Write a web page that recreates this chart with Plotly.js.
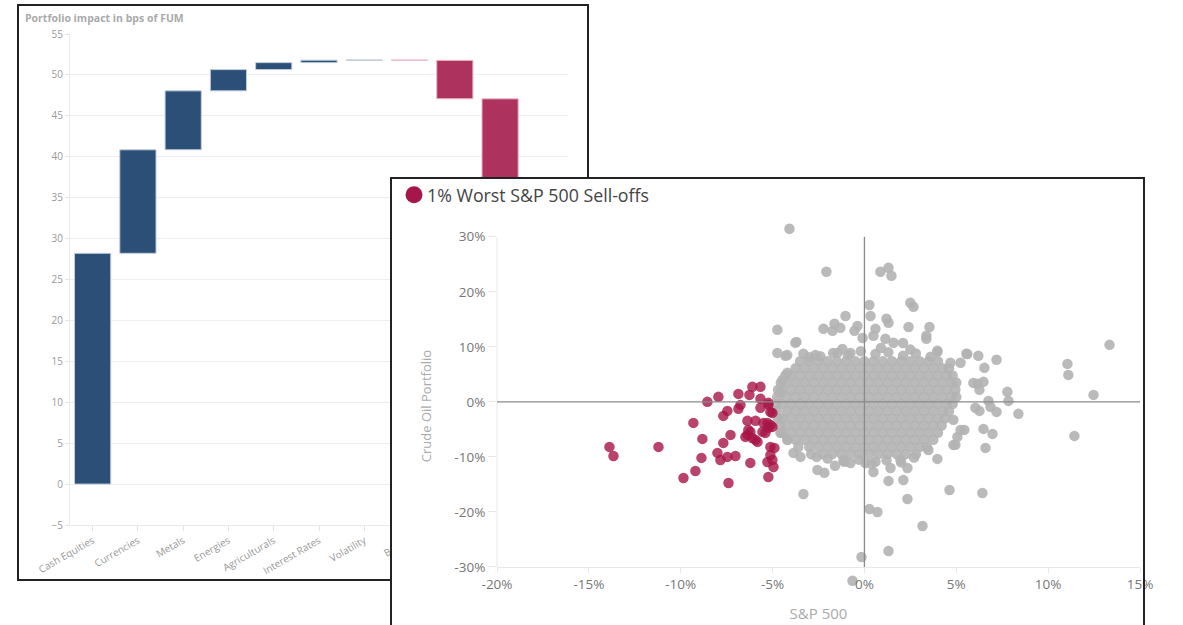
<!DOCTYPE html>
<html><head><meta charset="utf-8">
<script src="https://cdn.plot.ly/plotly-3.0.1.min.js"></script>
<style>
html,body{margin:0;padding:0;background:#fff;overflow:hidden;width:1183px;height:625px;}
#wfBox{position:absolute;left:17px;top:4px;width:568px;height:573px;border:2px solid #222;background:#fff;}
#wf{width:568px;height:573px;}
#sc{position:absolute;left:392px;top:179px;width:791px;height:446px;background:#fff;}
#scBorder{position:absolute;left:390px;top:177px;width:751px;height:470px;border:2px solid #222;pointer-events:none;}
</style></head><body>
<div id="wfBox"><div id="wf"></div></div>
<div id="sc"></div>
<div id="scBorder"></div>
<script>
// ---------- Waterfall data ----------
const wfCategories = ['Cash Equities','Currencies','Metals','Energies','Agriculturals','Interest Rates','Volatility','Bonds','Credit','Other','Total'];
const wfValues = [28.2, 12.65, 7.2, 2.6, 0.85, 0.3, 0.03, -0.05, -4.7, -12.0, null];
const wfMeasures = ['relative','relative','relative','relative','relative','relative','relative','relative','relative','relative','total'];
const wfTitle = 'Portfolio impact in bps of FUM';

// ---------- Scatter data (S&P 500 % vs Crude Oil Portfolio %) ----------
const redName = '1% Worst S&P 500 Sell-offs';
const redX = [-13.88,-13.66,-11.21,-9.31,-8.55,-7.95,-6.86,-6.26,-6.10,-5.66,
  -7.46,-7.68,-6.86,-6.75,-5.66,-5.23,-5.66,-6.37,-5.93,-5.50,
  -5.01,-5.12,-8.82,-7.68,-7.29,-6.37,-6.10,-5.82,-6.21,-5.55,
  -5.23,-5.12,-4.9,-8.87,-8.0,-7.84,-7.46,-7.02,-6.21,-5.12,
  -5.01,-4.95,-9.2,-9.85,-7.4,-5.23,-5.28,-5.23,-5.12,-5.28,
  -5.01,-5.39,-6.48,-5.93,-6.32];
const redY = [-8.18,-9.82,-8.18,-3.82,0,0.91,1.45,1.27,2.73,2.73,
  -1.64,-2.55,-1.27,-0.55,0.55,-0.18,-1.09,-3.45,-3.45,-3.82,
  -2.0,-4.18,-6.73,-7.45,-6.0,-6.0,-6.55,-7.27,-5.45,-5.45,
  -4.73,-8.18,-8.36,-10.18,-9.27,-10.55,-10.0,-9.82,-11.09,-9.64,
  -10.55,-11.82,-12.55,-13.82,-14.73,-13.64,-10.91,-0.55,-1.82,-3.82,
  -4.55,-5.64,-6.36,-6.91,-5.09];

const greyOutX = [-4.08,-2.07,0.87,1.31,1.47,0.27,2.5,2.67,0.33,-1.03,1.2,1.31,-4.74,-2.23,-1.74,-1.63,-1.31,-0.38,-0.54,0.6,2.4,3.54,-3.7,3.37,3.37,-0.1,1.14,1.58,2.1,0.49,-4.74,-4.2,-3.32,-2.67,-1.47,-0.76,3.97,
  13.34,11.05,11.1,12.47,11.43,5.55,6.2,7.19,6.53,6.48,6.15,6.26,7.78,7.84,6.75,6.86,8.38,7.19,6.26,6.04,6.48,6.97,6.59,5.44,5.06,4.84,3.97,4.84,5.23,4.68,3.97,
  -3.32,-2.56,-2.18,0.49,1.31,2.12,2.34,1.42,2.34,4.63,6.42,0.27,0.71,3.16,1.31,-0.16,-0.65,-1.14,-0.76,0.05,0.6,1.96,3.48,4.95,
  -4.3,-3.76,-4.46,-4.19,-4.57,5.6,5.93,5.23,-3.86,-3.48,-4.19,-4.57,
  -2.4,-1.7,-0.9,-0.2,0.6,1.3,2.1,2.8,3.6,-3.0,-1.2,0.9,2.5,
  -2.0,-1.1,-0.3,0.4,1.2,2.0,-2.6,2.7,-1.6];
const greyOutY = [31.45,23.64,23.64,24.36,22.9,17.6,18.0,17.27,15.6,15.6,15.1,14.36,13.1,13.27,12.9,14.2,13.45,13.8,12.9,13.27,13.6,13.6,10.9,12.0,11.45,11.6,11.45,10.73,10.7,12.0,8.9,8.5,8.73,8.5,8.9,8.9,9.27,
  10.36,6.9,4.9,1.27,-6.18,8.73,8.36,7.64,6.18,3.64,3.27,2.18,1.82,0.18,0.18,-0.91,-2.18,-1.82,-1.64,-1.09,-4.91,-5.82,-8.36,-5.09,-6.36,-7.82,-10.36,-3.27,7.1,7.1,9.1,
  -16.73,-12.36,-12.9,-12.73,-14.36,-14.18,-12.0,-12.0,-17.64,-16.0,-16.55,-19.45,-20.0,-22.55,-27.1,-28.18,-32.5,-10.55,-11.1,-11.1,-10.9,-10.55,-8.73,-7.8,
  8.36,10.73,4.0,5.27,1.64,8.7,3.45,-5.1,-9.27,-10.0,-6.9,-5.64,
  8.3,8.9,8.5,9.2,8.7,9.0,8.4,8.8,8.2,8.1,9.6,9.8,9.5,
  -10.3,-10.9,-10.5,-11.3,-10.6,-11.0,-10.0,-10.1,-11.6];

// dense core of the cloud, listed row by row (row y value, then the x values in that row)
const coreRowY = [7.4, 6.1, 4.8, 3.5, 2.2, 0.9, -0.4, -1.7, -3.0, -4.3, -5.6, -6.9, -8.2, -9.5];
const coreRowX = [
  [-3.5,-3.0,-2.5,-2.0,-1.5,-1.0,-0.5,0.0,0.5,1.0,1.5,2.0,2.5,3.0,3.5,4.0],
  [-3.75,-3.25,-2.75,-2.25,-1.75,-1.25,-0.75,-0.25,0.25,0.75,1.25,1.75,2.25,2.75,3.25,3.75,4.25,4.6],
  [-4.3,-4.0,-3.5,-3.0,-2.5,-2.0,-1.5,-1.0,-0.5,0.0,0.5,1.0,1.5,2.0,2.5,3.0,3.5,4.0,4.5,4.8],
  [-4.55,-4.25,-3.75,-3.25,-2.75,-2.25,-1.75,-1.25,-0.75,-0.25,0.25,0.75,1.25,1.75,2.25,2.75,3.25,3.75,4.25,4.75,5.0],
  [-4.7,-4.5,-4.0,-3.5,-3.0,-2.5,-2.0,-1.5,-1.0,-0.5,0.0,0.5,1.0,1.5,2.0,2.5,3.0,3.5,4.0,4.5,4.95],
  [-4.75,-4.25,-3.75,-3.25,-2.75,-2.25,-1.75,-1.25,-0.75,-0.25,0.25,0.75,1.25,1.75,2.25,2.75,3.25,3.75,4.25,4.75,5.0],
  [-4.8,-4.5,-4.0,-3.5,-3.0,-2.5,-2.0,-1.5,-1.0,-0.5,0.0,0.5,1.0,1.5,2.0,2.5,3.0,3.5,4.0,4.5,4.8],
  [-4.8,-4.25,-3.75,-3.25,-2.75,-2.25,-1.75,-1.25,-0.75,-0.25,0.25,0.75,1.25,1.75,2.25,2.75,3.25,3.75,4.25,4.6],
  [-4.7,-4.5,-4.0,-3.5,-3.0,-2.5,-2.0,-1.5,-1.0,-0.5,0.0,0.5,1.0,1.5,2.0,2.5,3.0,3.5,4.0,4.4],
  [-4.6,-4.25,-3.75,-3.25,-2.75,-2.25,-1.75,-1.25,-0.75,-0.25,0.25,0.75,1.25,1.75,2.25,2.75,3.25,3.75,4.2],
  [-4.5,-4.0,-3.5,-3.0,-2.5,-2.0,-1.5,-1.0,-0.5,0.0,0.5,1.0,1.5,2.0,2.5,3.0,3.5,4.0],
  [-4.2,-3.75,-3.25,-2.75,-2.25,-1.75,-1.25,-0.75,-0.25,0.25,0.75,1.25,1.75,2.25,2.75,3.25,3.75],
  [-3.6,-3.0,-2.5,-2.0,-1.5,-1.0,-0.5,0.0,0.5,1.0,1.5,2.0,2.5,3.0,3.4],
  [-2.9,-2.25,-1.75,-1.25,-0.75,-0.25,0.25,0.75,1.25,1.75,2.25,2.8]
];

const xTickVals = [-20,-15,-10,-5,0,5,10,15];
const xTickText = ['-20%','-15%','-10%','-5%','0%','5%','10%','15%'];
const yTickVals = [-30,-20,-10,0,10,20,30];
const yTickText = ['-30%','-20%','-10%','0%','10%','20%','30%'];
const yAxisMin = -30, yAxisMax = 30;   // extent of the drawn y axis

// ---------- Waterfall chart ----------
const NAVY = '#2c4f78', RED = '#ad325e';
Plotly.newPlot('wf', [{
  type: 'waterfall',
  x: wfCategories, y: wfValues, measure: wfMeasures,
  connector: {visible: false},
  increasing: {marker: {color: NAVY, line: {color: '#c3cedb', width: 1}}},
  decreasing: {marker: {color: RED, line: {color: '#ecbccb', width: 1}}},
  totals: {marker: {color: NAVY, line: {color: '#c3cedb', width: 1}}},
  textinfo: 'none', hoverinfo: 'x+y'
}], {
  width: 568, height: 573,
  margin: {l: 51, r: 19, t: 28, b: 54},
  paper_bgcolor: '#fff', plot_bgcolor: '#fff',
  showlegend: false, waterfallgap: 0.2,
  font: {family: 'Open Sans', color: '#999'},
  title: {text: wfTitle, font: {family: 'Open Sans', size: 10.5, color: '#aaa', weight: 'bold'},
          x: 6/568, xref: 'container', xanchor: 'left', y: 1 - 12/573, yref: 'container', yanchor: 'middle'},
  xaxis: {type: 'category', tickangle: -30, tickfont: {family: 'Open Sans', size: 10, color: '#999'},
          ticks: 'outside', ticklen: 5, tickcolor: '#e4e4e4', showgrid: false, showline: true, linecolor: '#ebebeb', automargin: false},
  yaxis: {range: [-5, 55], dtick: 5, tick0: 0, tickfont: {family: 'Open Sans', size: 10, color: '#999'},
          ticks: 'outside', ticklen: 4, tickcolor: '#e4e4e4', showgrid: true, gridcolor: '#efefef', zeroline: false,
          showline: true, linecolor: '#ebebeb', automargin: false}
}, {staticPlot: true, displayModeBar: false});

// ---------- Scatter chart ----------
const coreX = [], coreY = [];
coreRowY.forEach((yv, i) => coreRowX[i].forEach(xv => { coreX.push(xv); coreY.push(yv); }));
const greyX = greyOutX.concat(coreX);
const greyY = greyOutY.concat(coreY);

// the plot area reaches a little past the drawn axis so the two extreme days stay visible
const yView = [-34, 32.5];
Plotly.newPlot('sc', [
  {type: 'scatter', mode: 'markers', x: greyX, y: greyY, name: 'All days', showlegend: false,
   marker: {size: 10.5, color: 'rgba(178,178,178,0.9)', line: {width: 0}}},
  {type: 'scatter', mode: 'markers', x: redX, y: redY, name: redName, showlegend: false,
   marker: {size: 10.5, color: 'rgba(168,20,70,0.8)', line: {width: 0}}}
], {
  width: 791, height: 446,
  margin: {l: 105, r: 43, t: 44.25, b: 36},
  paper_bgcolor: 'rgba(0,0,0,0)', plot_bgcolor: 'rgba(0,0,0,0)',
  showlegend: false,
  font: {family: 'Open Sans', color: '#777'},
  xaxis: {range: [-20, 15], tickvals: xTickVals, ticktext: xTickText, showgrid: false, zeroline: false,
          anchor: 'free', position: (yAxisMin - yView[0]) / (yView[1] - yView[0]),
          showline: true, linecolor: '#e8e8e8', ticks: 'outside', ticklen: 5, tickcolor: '#e8e8e8',
          tickfont: {family: 'Open Sans', size: 13.5, color: '#777'},
          title: {text: 'S&P 500', font: {family: 'Open Sans', size: 15, color: '#aaa'}, standoff: 16}, automargin: false},
  yaxis: {range: yView, tickvals: yTickVals, ticktext: yTickText, showgrid: false, zeroline: false,
          showline: false, ticks: 'outside', ticklen: 8, tickcolor: '#e8e8e8',
          tickfont: {family: 'Open Sans', size: 13.5, color: '#777'},
          title: {text: 'Crude Oil Portfolio', font: {family: 'Open Sans', size: 13, color: '#aaa'}, standoff: 19}, automargin: false},
  shapes: [
    {type: 'line', xref: 'paper', yref: 'y', x0: 0, x1: 0, y0: yAxisMin, y1: yAxisMax, line: {color: '#e8e8e8', width: 1}, layer: 'below'},
    {type: 'line', xref: 'x', yref: 'y', x0: 0, x1: 0, y0: yAxisMin, y1: yAxisMax, line: {color: '#8a8a8a', width: 1.3}, layer: 'above'},
    {type: 'line', xref: 'paper', yref: 'y', x0: 0, x1: 1, y0: 0, y1: 0, line: {color: '#8a8a8a', width: 1.3}, layer: 'above'},
    {type: 'circle', xref: 'paper', yref: 'paper', xsizemode: 'pixel', ysizemode: 'pixel', xanchor: 0, yanchor: 1,
     x0: -91.5, x1: -74.5, y0: 19.75, y1: 36.75, fillcolor: '#a5174a', line: {width: 0}}
  ],
  annotations: [
    {text: redName, xref: 'paper', yref: 'paper', x: 0, y: 1, xshift: -72, yshift: 28.25, xanchor: 'left', yanchor: 'middle',
     showarrow: false, font: {family: 'Open Sans', size: 17.8, color: '#444'}}
  ]
}, {staticPlot: true, displayModeBar: false});
</script>
</body></html>
